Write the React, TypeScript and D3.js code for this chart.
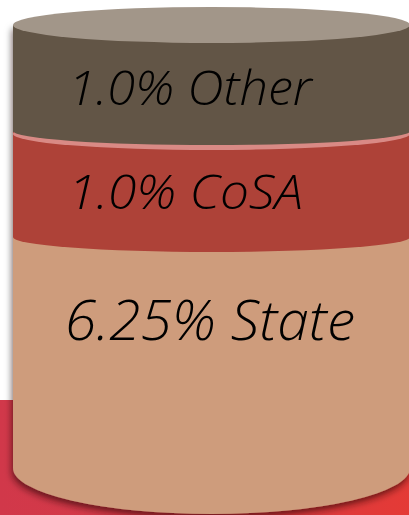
import React from "react";
import * as d3 from "d3";

const names = ["State", "CoSA", "Other"];
const values = [6.25, 1.0, 1.0];
const valueLabels = ["6.25%", "1.0%", "1.0%"];
const colors = ["#ce9c7c", "#ae4238", "#625546"];

const W = 409;
const H = 515;

export default function App() {
  const x0 = 13;
  const x1 = 410;
  const cx = (x0 + x1) / 2;
  const rx = (x1 - x0) / 2;
  const baseY = 468;

  const hScale = d3
    .scalePow()
    .exponent(0.425)
    .domain([0, d3.max(values) as number])
    .range([0, 231]);

  // stack from bottom
  let cur = baseY;
  const segs = values.map((v, i) => {
    const h = hScale(v);
    const yb = cur;
    const yt = cur - h;
    cur = yt;
    return { name: names[i], label: valueLabels[i], color: colors[i], yb, yt, i };
  });

  const bottomRy = [46, 15, 14];
  const labelSize = [55, 47, 47];
  const labelWidth = [290, 235, 244];
  const labelX = [65, 68, 68];
  const labelOffset = [103, 78, 80];

  const bodyPath = (yt: number, yb: number, ry: number) =>
    `M${x0},${yt} L${x0},${yb} A${rx},${ry} 0 0 0 ${x1},${yb} L${x1},${yt} Z`;

  const topY = segs[segs.length - 1].yt;

  return (
    <svg
      width={W}
      height={H}
      style={{ position: "absolute", left: 0, top: 0, display: "block" }}
    >
      <defs>
        <linearGradient id="band" x1="0" x2="1" y1="0" y2="0">
          <stop offset="0" stopColor="#d1384a" />
          <stop offset="0.5" stopColor="#d83a44" />
          <stop offset="1" stopColor="#e43a36" />
        </linearGradient>
        <filter id="shadow" x="-10%" y="-10%" width="120%" height="120%">
          <feDropShadow dx="-1" dy="4" stdDeviation="3.5" floodColor="#200000" floodOpacity="0.6" />
        </filter>
      </defs>
      <rect x={0} y={0} width={W} height={H} fill="#ffffff" />
      <rect x={0} y={400} width={W} height={H - 400} fill="url(#band)" />
      <g filter="url(#shadow)">
        {segs.map((s) => (
          <path key={s.name} d={bodyPath(s.yt, s.yb, bottomRy[s.i])} fill={s.color} />
        ))}
      </g>
      {/* CoSA top face showing as a thin band */}
      <ellipse cx={cx} cy={segs[1].yt + 3} rx={rx} ry={16} fill="#d98a85" />
      <path d={bodyPath(segs[2].yt, segs[2].yb, bottomRy[2])} fill={segs[2].color} />
      <ellipse cx={cx} cy={topY} rx={rx} ry={18} fill="#a29689" />
      {segs.map((s) => (
        <text
          key={"t" + s.name}
          x={labelX[s.i]}
          y={s.yt + labelOffset[s.i]}
          fontFamily="'Open Sans', 'DejaVu Sans', sans-serif"
          fontStyle="italic"
          fontWeight={300}
          fontSize={labelSize[s.i]}
          textLength={labelWidth[s.i]}
          lengthAdjust="spacingAndGlyphs"
          fill="#000"
        >
          {`${s.label} ${s.name}`}
        </text>
      ))}
    </svg>
  );
}
